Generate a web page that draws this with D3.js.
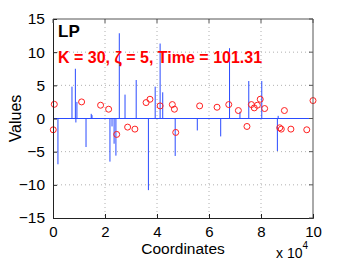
<!DOCTYPE html>
<html><head><meta charset="utf-8">
<script src="https://cdn.jsdelivr.net/npm/d3@7/dist/d3.min.js"></script>
<style>body{margin:0;background:#fff;}svg{display:block;font-family:"Liberation Sans",Arial,sans-serif;}</style>
</head><body><div id="chart"></div>
<script>
// Stem data (x in units of 1e4)
const stemX = [0.19, 0.73, 0.86, 0.88, 0.92, 1.27, 1.47, 1.50, 2.19, 2.27, 2.35, 2.42, 2.55, 2.77, 3.20, 3.67, 3.93, 4.12, 4.22, 4.70, 5.55, 6.45, 6.79, 7.19, 7.53, 8.03, 8.63, 8.66];
const stemY = [-6.9, 4.8, 7.5, -0.6, 2.5, -4.3, 0.7, 0.5, -6.5, -1.2, -3.8, -5.6, 12.85, 3.6, 5.8, -10.8, 4.8, 11.3, 3.95, -5.65, -1.8, -2.7, 10.6, 1.0, 5.65, 5.65, -4.9, 0.4];
// Circle data
const circleX = [0.01, 0.05, 1.10, 1.83, 2.14, 2.45, 2.87, 3.15, 3.58, 3.73, 4.12, 4.59, 4.67, 4.72, 5.64, 6.31, 6.76, 7.13, 7.46, 7.63, 7.74, 7.86, 7.97, 8.14, 8.72, 8.78, 8.90, 9.15, 9.76, 10.0];
const circleY = [-1.7, 2.14, 2.5, 2.0, 1.4, -2.4, -1.3, -1.6, 2.4, 2.9, 1.9, 2.1, 1.4, -2.1, 1.9, 1.7, 2.1, 1.2, -1.2, 2.1, 1.6, 2.0, 2.9, 1.5, -1.4, -1.6, 1.2, -1.6, -1.7, 2.7];
const xTicks = [0, 2, 4, 6, 8, 10];
const yTicks = [-15, -10, -5, 0, 5, 10, 15];
const gridX = [2, 4, 6, 8];
const gridY = [-10, -5, 5, 10];

const W = 346, H = 260;
const L = 53, R = 313, T = 19, B = 218;
const svg = d3.select("#chart").append("svg").attr("width", W).attr("height", H);
const x = d3.scaleLinear().domain([0, 10]).range([L, R]);
const y = d3.scaleLinear().domain([-15, 15]).range([B, T]);

// grid
svg.append("g").selectAll("line").data(gridX).join("line")
  .attr("x1", d => x(d)).attr("x2", d => x(d)).attr("y1", T).attr("y2", B)
  .attr("stroke", "#b0b0b0").attr("stroke-width", 1).attr("stroke-dasharray", "1,3");
svg.append("g").selectAll("line").data(gridY).join("line")
  .attr("x1", L).attr("x2", R).attr("y1", d => y(d)).attr("y2", d => y(d))
  .attr("stroke", "#b0b0b0").attr("stroke-width", 1).attr("stroke-dasharray", "1,3");

// stems
const stems = stemX.map((v, i) => ({x: v, y: stemY[i]}));
svg.append("g").selectAll("line").data(stems).join("line")
  .attr("x1", d => x(d.x)).attr("x2", d => x(d.x))
  .attr("y1", y(0)).attr("y2", d => y(d.y))
  .attr("stroke", "#2a4bff").attr("stroke-width", 1);
// baseline
svg.append("line").attr("x1", L).attr("x2", R).attr("y1", y(0)).attr("y2", y(0))
  .attr("stroke", "#2a4bff").attr("stroke-width", 1);

// circles
const pts = circleX.map((v, i) => ({x: v, y: circleY[i]}));
svg.append("g").selectAll("circle").data(pts).join("circle")
  .attr("cx", d => x(d.x)).attr("cy", d => y(d.y)).attr("r", 3)
  .attr("fill", "none").attr("stroke", "#ff2020").attr("stroke-width", 1);

// axes box
svg.append("line").attr("x1", L).attr("x2", R).attr("y1", T).attr("y2", T).attr("stroke", "#555");
svg.append("line").attr("x1", R).attr("x2", R).attr("y1", T).attr("y2", B).attr("stroke", "#555");
const yAxis = d3.axisLeft(y).tickValues(yTicks).tickSize(-4).tickPadding(8).tickFormat(d3.format("d"));
const gy = svg.append("g").attr("transform", `translate(${L},0)`).call(yAxis);
const xAxis = d3.axisBottom(x).tickValues(xTicks).tickSize(-4).tickPadding(8).tickFormat(d3.format("d"));
const gx = svg.append("g").attr("transform", `translate(0,${B})`).call(xAxis);
[gy, gx].forEach(g => {
  g.select(".domain").attr("stroke", "#222");
  g.selectAll(".tick line").attr("stroke", "#222");
  g.selectAll(".tick text").attr("font-size", 15.5).attr("fill", "#000").attr("font-family", "Liberation Sans, Arial, sans-serif");
});
gx.selectAll(".tick text").attr("font-size", 15);
// right/top ticks
svg.append("g").selectAll("line").data(yTicks).join("line")
  .attr("x1", R).attr("x2", R - 4).attr("y1", d => y(d)).attr("y2", d => y(d)).attr("stroke", "#555");
svg.append("g").selectAll("line").data(xTicks).join("line")
  .attr("x1", d => x(d)).attr("x2", d => x(d)).attr("y1", T).attr("y2", T + 4).attr("stroke", "#555");

// labels
svg.append("text").attr("x", (L + R) / 2).attr("y", 253.5).attr("text-anchor", "middle")
  .attr("font-size", 15.5).text("Coordinates");
svg.append("text").attr("transform", `translate(21,${(T + B) / 2}) rotate(-90)`).attr("text-anchor", "middle")
  .attr("font-size", 16).text("Values");
const ex = svg.append("text").attr("x", 276).attr("y", 258).attr("font-size", 14);
ex.append("tspan").text("x 10");
ex.append("tspan").attr("dy", -9).attr("font-size", 10).text("4");

svg.append("text").attr("x", 58).attr("y", 37).attr("font-size", 17).attr("font-weight", "bold").text("LP");
svg.append("text").attr("x", 58).attr("y", 63).attr("font-size", 16).attr("font-weight", "bold")
  .attr("fill", "#ff0000").text("K = 30,  \u03B6 = 5, Time = 101.31");
</script></body></html>
